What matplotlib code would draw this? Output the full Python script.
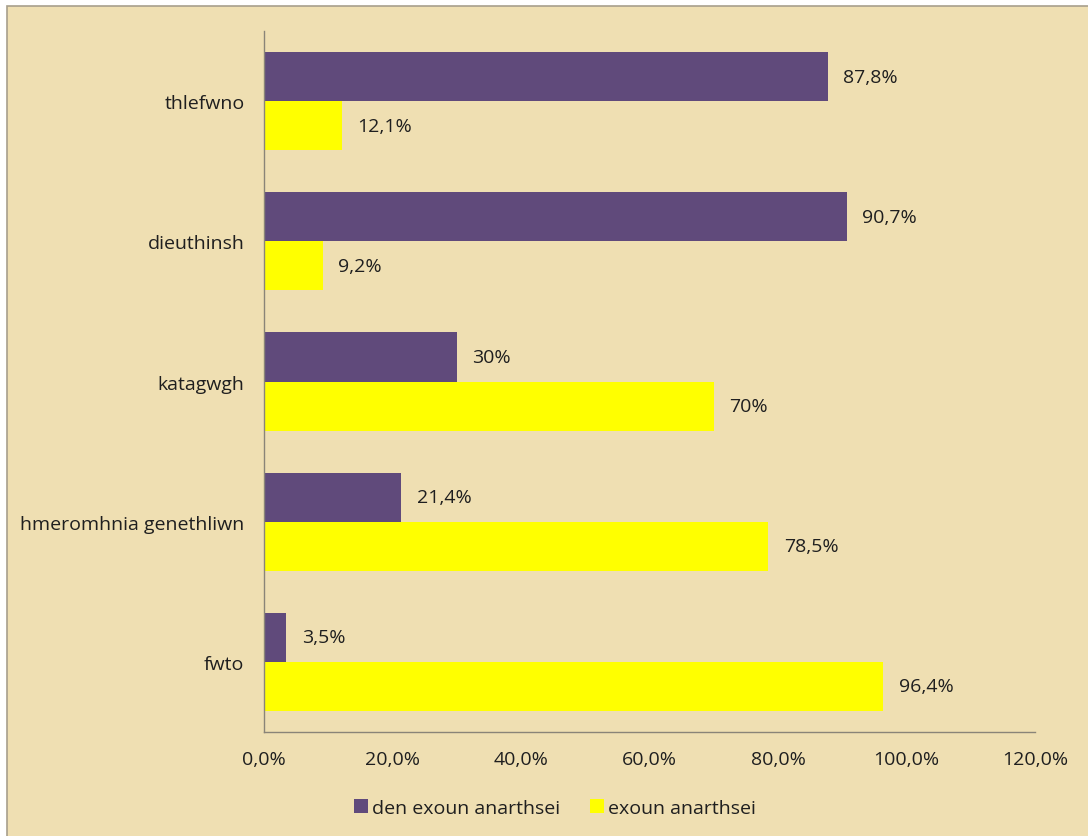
import matplotlib.pyplot as plt
from matplotlib.patches import Rectangle
import numpy as np

# survey answers per category (share of respondents)
categories = ["thlefwno", "dieuthinsh", "katagwgh", "hmeromhnia genethliwn", "fwto"]
not_posted = [87.8, 90.7, 30.0, 21.4, 3.5]   # den exoun anarthsei
posted = [12.1, 9.2, 70.0, 78.5, 96.4]       # exoun anarthsei
series_names = ["den exoun anarthsei", "exoun anarthsei"]
x_ticks = [0, 20, 40, 60, 80, 100, 120]

PURPLE = "#604a7b"
YELLOW = "#ffff00"
PAPER = "#efdfb2"
TEXT = "#1f1f1f"
FS = 14

plt.rcParams["font.family"] = ["Open Sans", "DejaVu Sans"]


def pct(v):
    # comma as decimal mark, drop ",0" for whole numbers
    if float(v).is_integer():
        return f"{int(v)}%"
    return f"{v:.1f}".replace(".", ",") + "%"


fig = plt.figure(figsize=(10.88, 8.37), dpi=100, facecolor="white")

# papyrus-coloured panel with a thin grey edge on the left/top
fig.patches.append(Rectangle((7 / 1088, -0.01), 1.0, 1 - 7 / 837 + 0.01,
                             transform=fig.transFigure, facecolor=PAPER,
                             edgecolor="#a89f8c", linewidth=1.2, zorder=-5))

ax = fig.add_axes([264 / 1088, 1 - 733 / 837, 771 / 1088, 701 / 837])
ax.set_facecolor("none")

y = np.arange(len(categories))
h = 0.35
ax.barh(y - h / 2, not_posted, height=h, color=PURPLE, label=series_names[0])
ax.barh(y + h / 2, posted, height=h, color=YELLOW, label=series_names[1])

for yi, a, b in zip(y, not_posted, posted):
    ax.annotate(pct(a), (a, yi - h / 2), xytext=(11, 0), textcoords="offset points",
                va="center", ha="left", fontsize=FS, color=TEXT)
    ax.annotate(pct(b), (b, yi + h / 2), xytext=(11, 0), textcoords="offset points",
                va="center", ha="left", fontsize=FS, color=TEXT)

ax.set_xlim(0, 120)
ax.set_ylim(len(categories) - 0.5, -0.5)
ax.set_xticks(x_ticks)
ax.set_xticklabels([f"{t:.1f}".replace(".", ",") + "%" for t in x_ticks])
ax.set_yticks(y)
ax.set_yticklabels(categories)
ax.tick_params(axis="x", length=0, pad=13, labelsize=FS, labelcolor=TEXT)
ax.tick_params(axis="y", length=0, pad=14, labelsize=FS, labelcolor=TEXT)

for side in ["top", "right"]:
    ax.spines[side].set_visible(False)
for side in ["left", "bottom"]:
    ax.spines[side].set_color("#8a8478")
    ax.spines[side].set_linewidth(1.0)

fig.legend(loc="center", bbox_to_anchor=(0.510, 1 - 809 / 837), ncol=2,
           frameon=False, fontsize=FS, handlelength=0.75, handleheight=0.75,
           handletextpad=0.2, columnspacing=1.5, labelcolor=TEXT)

fig.savefig("out.png", dpi=100, facecolor=fig.get_facecolor())
